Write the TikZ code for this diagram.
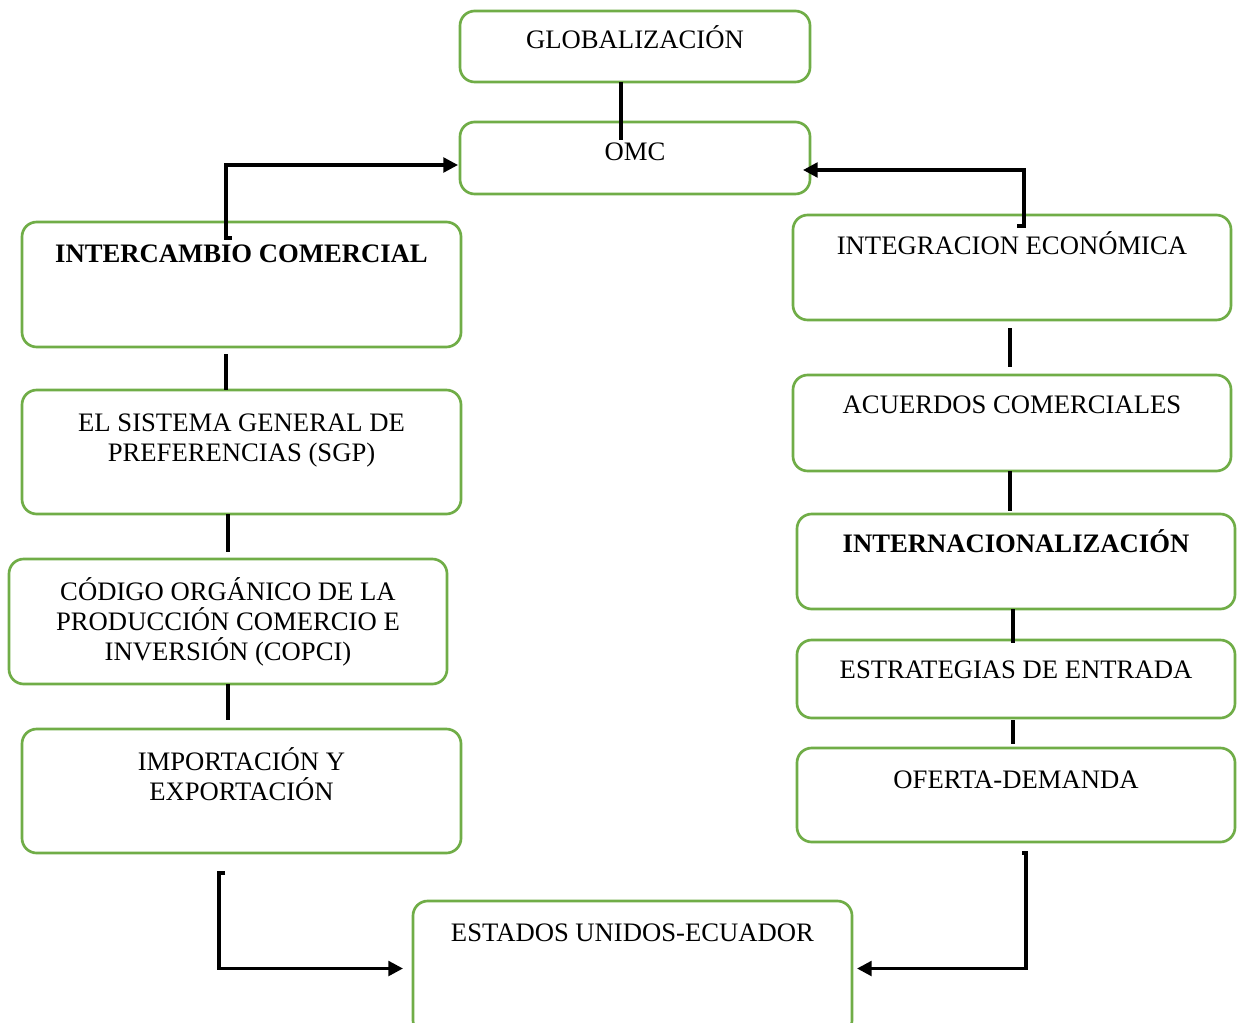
\documentclass[tikz,border=0pt]{standalone}
\usepackage{fontspec}
\setmainfont{Liberation Serif}
\usetikzlibrary{calc,arrows.meta}
\definecolor{boxgreen}{HTML}{70AD47}
\tikzset{
  box/.style={draw=boxgreen, line width=2pt, rounded corners=11pt, inner sep=0pt, outer sep=0pt, fill=none},
  txt/.style={anchor=north, inner sep=0pt, align=center, text height=14pt, font=\fontsize{20}{22.5}\selectfont},
  conn/.style={draw=black, line width=2.5pt},
  arr/.style={conn, -{Triangle[length=11pt,width=11pt]}}
}
\newcommand{\bx}[7]{%
  \node[box, minimum width={(#4-#2)*0.75pt}, minimum height={(#5-#3)*0.75pt}, anchor=north west] (#1) at (#2,#3) {};
  \node[txt] (#1t) at ({(#2+#4)/2},{#6-10}) {#7};
}
\begin{document}
\begin{tikzpicture}[x=0.75pt,y=-0.75pt]
\clip (0,0) rectangle (1237,1023);
\fill[white] (0,0) rectangle (1237,1023);
\bx{glob}{460}{11}{810}{82}{40}{GLOBALIZACIÓN}
\bx{omc}{460}{122}{810}{194}{152}{OMC}
\bx{inter}{22}{222}{461}{347}{254}{\textbf{INTERCAMBIO COMERCIAL}}
\bx{sgp}{22}{390}{461}{514}{453}{EL SISTEMA GENERAL DE\\PREFERENCIAS (SGP)}
\bx{cop}{9}{559}{447}{684}{652}{CÓDIGO ORGÁNICO DE LA\\PRODUCCIÓN COMERCIO E\\INVERSIÓN (COPCI)}
\bx{imp}{22}{729}{461}{853}{792}{IMPORTACIÓN Y\\EXPORTACIÓN}
\bx{est}{413}{901}{852}{1035}{933}{ESTADOS UNIDOS-ECUADOR}
\bx{integ}{793}{215}{1231}{320}{246}{INTEGRACION ECONÓMICA}
\bx{acu}{793}{375}{1231}{471}{405}{ACUERDOS COMERCIALES}
\bx{intn}{797}{514}{1235}{609}{544}{\textbf{INTERNACIONALIZACIÓN}}
\bx{estr}{797}{640}{1235}{718}{670}{ESTRATEGIAS DE ENTRADA}
\bx{ofe}{797}{748}{1235}{842}{780}{OFERTA-DEMANDA}
% vertical connectors
\draw[conn] ($(glob.south)+(-14,0)$) -- ($(omc.north)+(-14,18)$);
\draw[conn] ($(inter.south)+(-15.5,7)$) -- ($(sgp.north)+(-15.5,0)$);
\draw[conn] ($(sgp.south)+(-13.5,0)$) -- ($(cop.north)+(0,-7)$);
\draw[conn] (cop.south) -- ($(imp.north)+(-13.5,-9)$);
\draw[conn] ($(integ.south)+(-2,8)$) -- ($(acu.north)+(-2,-8)$);
\draw[conn] ($(acu.south)+(-2,0)$) -- ($(intn.north)+(-6,-3)$);
\draw[conn] ($(intn.south)+(-3,0)$) -- ($(estr.north)+(-3,3)$);
\draw[conn] ($(estr.south)+(-3,2)$) -- ($(ofe.north)+(-3,-4)$);
% elbow arrows
\draw[arr] ($(inter.north)+(-9.5,16)$) -- ++(-6,0) |- ($(omc.west)+(-2,7)$);
\draw[arr] ($(integ.north)+(5,11)$) -- ++(7,0) |- ($(omc.east)+(-7,12)$);
\draw[arr] ($(imp.south)+(-16.5,20)$) -- ++(-6,0) |- ($(est.west)+(-10,0.5)$);
\draw[arr] ($(ofe.south)+(6,11)$) -- ++(4,0) |- ($(est.east)+(5,0.5)$);
\end{tikzpicture}
\end{document}
